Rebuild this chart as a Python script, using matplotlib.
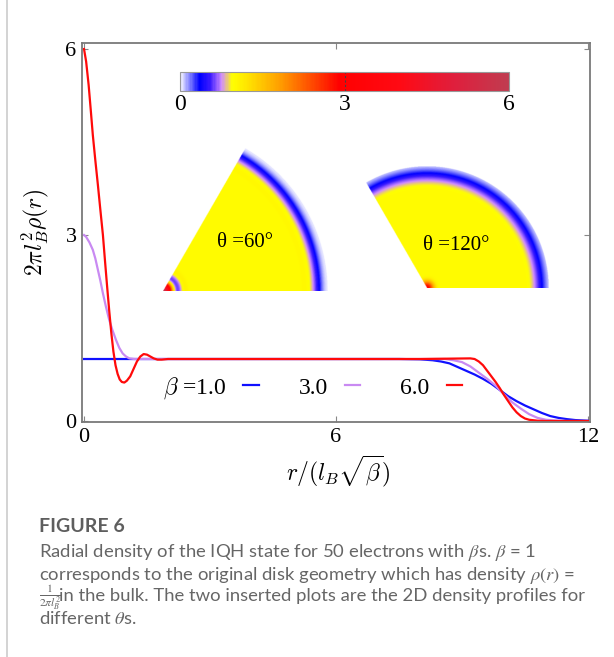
import numpy as np
import matplotlib
matplotlib.use('Agg')
import matplotlib.pyplot as plt
from matplotlib.colors import LinearSegmentedColormap, Normalize
from matplotlib.cm import ScalarMappable
from matplotlib.lines import Line2D

plt.rcParams['font.family'] = ['Liberation Serif', 'DejaVu Serif']
plt.rcParams['mathtext.fontset'] = 'cm'

# radial density, r in units of l_B*sqrt(beta)
r_b1 = [0, 2, 4, 6, 7.5, 8.0, 8.3, 8.5, 8.7, 8.9, 9.1, 9.3, 9.5, 9.7, 9.9,
        10.1, 10.3, 10.5, 10.7, 10.9, 11.1, 11.3, 11.5, 11.7, 12.0]
rho_b1 = [1.0, 1.0, 1.0, 1.0, 1.0, 0.995, 0.98, 0.96, 0.93, 0.87, 0.81, 0.75,
          0.68, 0.6, 0.5, 0.4, 0.32, 0.25, 0.19, 0.13, 0.08, 0.05, 0.03, 0.015, 0.005]

r_b3 = [0, 0.05, 0.13, 0.21, 0.27, 0.33, 0.39, 0.45, 0.52, 0.60, 0.68, 0.76,
        0.84, 0.92, 1.0, 1.08, 1.2, 2, 4, 6, 8.6, 8.8, 9.0, 9.2, 9.4, 9.6,
        9.8, 9.9, 10.0, 10.2, 10.4, 10.6, 10.8, 11.0, 11.2, 11.5, 12.0]
rho_b3 = [3.0, 2.97, 2.88, 2.76, 2.62, 2.44, 2.26, 2.06, 1.85, 1.63, 1.46, 1.31,
          1.18, 1.09, 1.04, 1.01, 1.0, 1.0, 1.0, 1.0, 1.0, 0.98, 0.95, 0.88, 0.78, 0.68,
          0.57, 0.5, 0.43, 0.3, 0.2, 0.11, 0.05, 0.02, 0.01, 0.0, 0.0]

r_b6 = [0, 0.05, 0.11, 0.16, 0.21, 0.27, 0.33, 0.39, 0.45, 0.50, 0.55, 0.60,
        0.65, 0.70, 0.75, 0.80, 0.85, 0.90, 0.96, 1.02, 1.10, 1.18, 1.26, 1.34,
        1.42, 1.50, 1.58, 1.66, 1.75, 1.85, 2.0, 2.5, 4, 6, 8, 9.2, 9.3, 9.4,
        9.5, 9.6, 9.7, 9.8, 9.9, 10.0, 10.1, 10.2, 10.3, 10.4, 10.5, 10.6,
        10.8, 11.0, 12.0]
rho_b6 = [6.0, 5.8, 5.42, 5.02, 4.61, 4.2, 3.81, 3.4, 3.0, 2.58, 2.17, 1.78,
          1.42, 1.12, 0.9, 0.76, 0.67, 0.63, 0.62, 0.65, 0.72, 0.84, 0.96, 1.04,
          1.08, 1.07, 1.04, 1.01, 0.99, 0.99, 1.0, 1.0, 1.0, 1.0, 1.0, 1.01, 1.0, 0.96,
          0.9, 0.81, 0.72, 0.63, 0.53, 0.42, 0.32, 0.22, 0.14, 0.08, 0.04, 0.02,
          0.005, 0.0, 0.0]

labels = [r'$\beta$ =1.0', '3.0', '6.0']
colors = ['#1010ff', '#c98af2', '#ff0a0a']

cbar_ticks = [0, 3, 6]
cmap = LinearSegmentedColormap.from_list('dens', [
    (0.0, '#f4f4ff'), (0.058, '#0000ff'), (0.09, '#3a1aff'), (0.125, '#d08cff'),
    (0.158, '#ffff00'), (0.2, '#ffe600'), (0.3, '#ffa000'), (0.4, '#ff4a00'),
    (0.483, '#ff0000'), (0.67, '#ff0a14'), (0.83, '#e01e3c'), (1.0, '#c03c50')])
norm = Normalize(0, 6)

W, H = 614, 657
fig = plt.figure(figsize=(W / 100, H / 100), dpi=100)


def box(x0, y0, x1, y1):
    return [x0 / W, 1 - y1 / H, (x1 - x0) / W, (y1 - y0) / H]


ax = fig.add_axes(box(82, 43, 590, 422))
for r, v, lab, c in zip([r_b1, r_b3, r_b6], [rho_b1, rho_b3, rho_b6], labels, colors):
    ax.plot(r, v, color=c, lw=1.6, label=lab)
ax.set_xlim(-0.048, 12.048)
ax.set_ylim(-0.016, 6.097)
ax.set_xticks([0, 6, 12])
ax.set_yticks([0, 3, 6])
ax.tick_params(direction='in', length=4, color='#888888', labelsize=16,
               top=True, right=True, pad=4)
for s in ax.spines.values():
    s.set_color('#7a7a7a')
    s.set_linewidth(1.3)
ax.set_xlabel(r'$r/(l_B\sqrt{\beta})$', fontsize=17)
ax.xaxis.set_label_coords(0.504, -0.082)
ax.set_ylabel(r'$2\pi l_B^2\rho(r)$', fontsize=17)
ax.yaxis.set_label_coords(-0.062, 0.5)

ax.legend(loc='center left', bbox_to_anchor=(163 / W, 1 - 388 / H),
          bbox_transform=fig.transFigure, ncol=3, frameon=False, markerfirst=False,
          handlelength=0.65, handletextpad=0.72, columnspacing=1.7, fontsize=17,
          borderpad=0, borderaxespad=0)


# 2D density insets, drawn from the radial profiles
def wedge(r, v, theta, apex, scale, rmax, text, tpos):
    t = np.radians(theta)
    xmin = min(0.0, rmax * np.cos(t))
    ymax = rmax if theta >= 90 else rmax * np.sin(t)
    px0, px1 = apex[0] + xmin * scale, apex[0] + rmax * scale
    py0, py1 = apex[1] - ymax * scale, apex[1]
    iax = fig.add_axes(box(px0, py0, px1, py1))
    iax.axis('off')
    xs = np.linspace(xmin, rmax, int((px1 - px0) * 3))
    ys = np.linspace(0, ymax, int((py1 - py0) * 3))
    X, Y = np.meshgrid(xs, ys)
    R = np.hypot(X, Y)
    A = np.degrees(np.arctan2(Y, X))
    rgba = cmap(norm(np.interp(R, r, v)))
    rgba[(A > theta) | (R > rmax), 3] = 0
    iax.imshow(rgba, origin='lower', extent=(xmin, rmax, 0, ymax), aspect='auto',
               interpolation='bilinear')
    iax.set_xlim(xmin, rmax)
    iax.set_ylim(0, ymax)
    fig.text(tpos[0] / W, 1 - tpos[1] / H, text, fontsize=15, ha='center', va='center')


wedge(r_b6, rho_b6, 60, (163.3, 290.7), 15.5, 10.6, 'θ =60°', (245, 243))
wedge(r_b3, rho_b3, 120, (427.3, 288.3), 11.4, 10.7, 'θ =120°', (456, 246))

# colour bar
cax = fig.add_axes(box(180, 72, 509, 91))
cb = fig.colorbar(ScalarMappable(norm, cmap), cax=cax, orientation='horizontal')
cb.set_ticks(cbar_ticks)
cax.tick_params(length=0, labelsize=17, pad=2)
cb.outline.set_edgecolor('#999999')
cax.axvline(3, color='#444444', lw=0.8, ls=(0, (2, 2)))

# page border and caption
fig.add_artist(Line2D([7 / W, 7 / W], [0, 1], color='#cccccc', lw=1.2))
cap = dict(family=['Lato', 'DejaVu Sans'], color='#666666', fontsize=13.3,
           va='baseline', math_fontfamily='stix')
fig.text(39 / W, 1 - 532 / H, 'FIGURE 6', fontweight='bold', **dict(cap, color='#5e5e5e', fontsize=14))
fig.text(39 / W, 1 - 557 / H, r'Radial density of the IQH state for 50 electrons with $\beta$s. $\beta$ = 1', **cap)
fig.text(39 / W, 1 - 580 / H, r'corresponds to the original disk geometry which has density $\rho(r)$ =', **cap)
fig.text(39 / W, 1 - 599 / H, r'$\frac{1}{2\pi l_B^2}$', **dict(cap, fontsize=11.8))
fig.text(59 / W, 1 - 601 / H, 'in the bulk. The two inserted plots are the 2D density profiles for', **cap)
fig.text(39 / W, 1 - 624 / H, r'different $\theta$s.', **cap)

fig.savefig('out.png', dpi=100)
